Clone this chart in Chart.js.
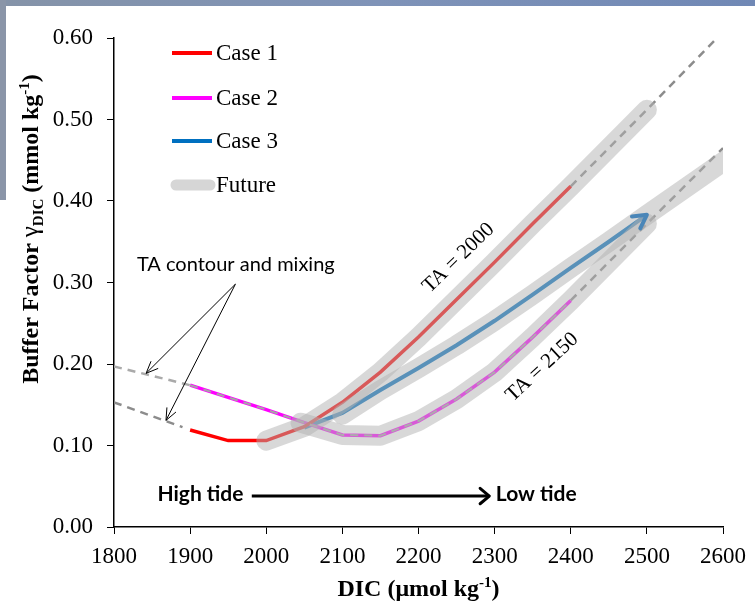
<!DOCTYPE html>
<html>
<head>
<meta charset="utf-8">
<script src="https://cdn.jsdelivr.net/npm/chart.js@4.4.0/dist/chart.umd.min.js"></script>
<style>
  html, body { margin: 0; padding: 0; background: #fff; }
  canvas { display: block; }
</style>
</head>
<body>
<canvas id="chart" width="755" height="601"></canvas>
<script>
// values: DIC (umol/kg) vs buffer factor (mmol/kg)
const case1Dic = [1900, 1950, 2000, 2050, 2100, 2150, 2200, 2250, 2300, 2350, 2400]
const case1Buf = [0.119, 0.106, 0.106, 0.123, 0.153, 0.190, 0.233, 0.279, 0.325, 0.372, 0.418]

const case2Dic = [1900, 1950, 2000, 2050, 2100, 2150, 2200, 2250, 2300, 2350, 2400]
const case2Buf = [0.174, 0.159, 0.144, 0.128, 0.113, 0.112, 0.130, 0.157, 0.190, 0.233, 0.278]

const case3Dic = [2050, 2100, 2150, 2200, 2250, 2300, 2350, 2400, 2450, 2500]
const case3Buf = [0.122, 0.140, 0.168, 0.195, 0.223, 0.253, 0.285, 0.318, 0.350, 0.383]

// "Future" bands
const futureADic = [2000, 2050, 2100, 2150, 2200, 2250, 2300, 2350, 2400, 2500]
const futureABuf = [0.106, 0.123, 0.153, 0.190, 0.233, 0.279, 0.325, 0.372, 0.418, 0.512]
const futureBDic = [2045, 2100, 2150, 2200, 2250, 2300, 2350, 2400, 2500]
const futureBBuf = [0.128, 0.113, 0.112, 0.130, 0.157, 0.190, 0.233, 0.278, 0.372]
const futureCDic = [2100, 2150, 2200, 2250, 2300, 2350, 2400, 2450, 2500, 2620]
const futureCBuf = [0.138, 0.168, 0.195, 0.223, 0.253, 0.285, 0.318, 0.350, 0.383, 0.461]

// TA contours (dashed)
const ta2000ExtDic = [2400, 2500, 2590]
const ta2000ExtBuf = [0.418, 0.512, 0.598]
const ta2150ExtDic = [2400, 2500, 2600]
const ta2150ExtBuf = [0.278, 0.372, 0.465]
const mixUpperDic = [1800, 1900]
const mixUpperBuf = [0.197, 0.174]
const mixLowerDic = [1800, 1890]
const mixLowerBuf = [0.153, 0.1225]

const legendLabels = ['Case 1', 'Case 2', 'Case 3', 'Future']
const xTicks = [1800, 1900, 2000, 2100, 2200, 2300, 2400, 2500, 2600]
const yTicks = [0, 0.1, 0.2, 0.3, 0.4, 0.5, 0.6]

const pts = (xs, ys) => xs.map((x, i) => ({x: x, y: ys[i]}))

const RED = '#ff0000'
const PINK = '#ff00ff'
const BLUE = '#0070c0'
const BAND = 'rgba(178,178,178,0.5)'
const DASH = '#8c8c8c'
const SERIF = '"Liberation Serif", "Times New Roman", serif'
const SANS = 'Lato, "Open Sans", sans-serif'

function band(xs, ys, clip) {
    return {data: pts(xs, ys), borderColor: BAND, borderWidth: 20, borderCapStyle: 'round',
        borderJoinStyle: 'round', clip: clip === undefined ? 12 : clip}
}
function dashed(xs, ys, color, width) {
    return {data: pts(xs, ys), borderColor: color, borderWidth: width, borderDash: [8, 6]}
}

function arrowHead(ctx, x1, y1, x2, y2, len, spread) {
    const a = Math.atan2(y2 - y1, x2 - x1)
    ctx.beginPath()
    ctx.moveTo(x2 - len * Math.cos(a - spread), y2 - len * Math.sin(a - spread))
    ctx.lineTo(x2, y2)
    ctx.lineTo(x2 - len * Math.cos(a + spread), y2 - len * Math.sin(a + spread))
    ctx.stroke()
}

function richText(ctx, parts, cx, cy) {
    let total = 0
    parts.forEach(p => { ctx.font = p.f; p.w = ctx.measureText(p.t).width; total += p.w })
    let x = cx - total / 2
    ctx.textAlign = 'left'
    ctx.textBaseline = 'alphabetic'
    parts.forEach(p => {
        ctx.font = p.f
        ctx.fillText(p.t, x, cy + (p.dy || 0))
        x += p.w
    })
}

const decorations = {
    id: 'decorations',
    beforeDraw(chart) {
        const ctx = chart.ctx
        ctx.save()
        ctx.fillStyle = '#fff'
        ctx.fillRect(0, 0, chart.width, chart.height)
        // slide background peeking through top and left
        const g = ctx.createLinearGradient(0, 0, chart.width, 0)
        g.addColorStop(0, '#8593a8')
        g.addColorStop(0.5, '#7f93b8')
        g.addColorStop(1, '#7088b5')
        ctx.fillStyle = g
        ctx.fillRect(0, 0, chart.width, 6)
        ctx.fillStyle = '#8a95a8'
        ctx.fillRect(0, 0, 6, 200)
        ctx.restore()
    },
    afterDatasetsDraw(chart) {
        const ctx = chart.ctx
        const xs = chart.scales.x, ys = chart.scales.y
        const X = v => xs.getPixelForValue(v), Y = v => ys.getPixelForValue(v)
        ctx.save()
        ctx.lineCap = 'round'
        ctx.lineJoin = 'round'

        // arrow head on case 3
        const n = case3Dic.length
        ctx.strokeStyle = '#4a86b8'
        ctx.lineWidth = 4
        arrowHead(ctx, X(case3Dic[n - 2]), Y(case3Buf[n - 2]), X(case3Dic[n - 1]), Y(case3Buf[n - 1]), 15, 0.5)

        // TA contour and mixing note
        ctx.fillStyle = '#000'
        ctx.font = '20px ' + SANS
        ctx.textAlign = 'center'
        ctx.textBaseline = 'middle'
        ctx.fillText('TA contour and mixing', X(1960), Y(0.322))
        ctx.strokeStyle = '#000'
        ctx.lineWidth = 1
        ctx.lineCap = 'butt'
        const ox = X(1959.5), oy = Y(0.298)
        ;[[1842.2, 0.1886], [1868.3, 0.1308]].forEach(e => {
            ctx.beginPath()
            ctx.moveTo(ox, oy)
            ctx.lineTo(X(e[0]), Y(e[1]))
            ctx.stroke()
            arrowHead(ctx, ox, oy, X(e[0]), Y(e[1]), 13, 0.4)
        })

        // tide arrow
        ctx.font = 'bold 21px ' + SANS
        ctx.fillText('High tide', X(1913.6), Y(0.040))
        ctx.fillText('Low tide', X(2354.7), Y(0.040))
        ctx.lineWidth = 3
        ctx.beginPath()
        ctx.moveTo(X(1981), Y(0.038))
        ctx.lineTo(X(2293), Y(0.038))
        ctx.stroke()
        ctx.lineCap = 'round'
        arrowHead(ctx, X(1981), Y(0.038), X(2293), Y(0.038), 12, 0.7)

        // TA labels along the contours
        ctx.font = '21px ' + SERIF
        ;[['TA = 2000', 2252.6, 0.330, -44], ['TA = 2150', 2362.5, 0.196, -43]].forEach(l => {
            ctx.save()
            ctx.translate(X(l[1]), Y(l[2]))
            ctx.rotate(l[3] * Math.PI / 180)
            ctx.fillText(l[0], 0, 0)
            ctx.restore()
        })
        ctx.restore()
    },
    afterDraw(chart) {
        const ctx = chart.ctx
        const area = chart.chartArea
        ctx.save()
        ctx.fillStyle = '#000'

        // legend
        const colors = [RED, PINK, BLUE]
        const rows = [53, 98, 141, 185]
        legendLabels.forEach((label, i) => {
            ctx.beginPath()
            if (i < 3) {
                ctx.strokeStyle = colors[i]
                ctx.lineWidth = 4
                ctx.lineCap = 'butt'
                ctx.moveTo(172, rows[i])
                ctx.lineTo(212, rows[i])
            } else {
                ctx.strokeStyle = '#d6d6d6'
                ctx.lineWidth = 11
                ctx.lineCap = 'round'
                ctx.moveTo(176, rows[i])
                ctx.lineTo(210, rows[i])
            }
            ctx.stroke()
            ctx.font = '23px ' + SERIF
            ctx.textAlign = 'left'
            ctx.textBaseline = 'middle'
            ctx.fillText(label, 216, rows[i] + 1)
        })

        // axis titles with sub/superscripts
        const big = 'bold 24px ' + SERIF, small = 'bold 15px ' + SERIF
        richText(ctx, [
            {t: 'DIC (\u03bcmol kg', f: big},
            {t: '-1', f: small, dy: -9},
            {t: ')', f: big}
        ], (area.left + area.right) / 2, 596)

        ctx.save()
        ctx.translate(38, 229)
        ctx.rotate(-Math.PI / 2)
        richText(ctx, [
            {t: 'Buffer Factor ', f: big},
            {t: '\u03b3', f: '25px ' + SERIF},
            {t: 'DIC', f: small, dy: 5},
            {t: ' (mmol kg', f: big},
            {t: '-1', f: small, dy: -9},
            {t: ')', f: big}
        ], 0, 0)
        ctx.restore()
        ctx.restore()
    }
}

const axisFont = {family: SERIF, size: 23}

new Chart(document.getElementById('chart'), {
    type: 'scatter',
    data: {
        datasets: [
            band(futureADic, futureABuf),
            band(futureBDic, futureBBuf),
            band(futureCDic, futureCBuf, {left: 12, top: 12, right: 0, bottom: 12}),
            dashed(case2Dic, case2Buf, '#a6a6a6', 2),
            {data: pts(case1Dic, case1Buf), borderColor: RED, borderWidth: 3.5},
            {data: pts(case2Dic, case2Buf), borderColor: PINK, borderWidth: 3.5},
            {data: pts(case3Dic, case3Buf), borderColor: BLUE, borderWidth: 4},
            dashed(ta2000ExtDic, ta2000ExtBuf, DASH, 2.5),
            dashed(ta2150ExtDic, ta2150ExtBuf, DASH, 2.5),
            dashed(mixUpperDic, mixUpperBuf, '#aaaaaa', 2.5),
            dashed(mixLowerDic, mixLowerBuf, DASH, 2.5)
        ]
    },
    options: {
        responsive: false,
        animation: false,
        devicePixelRatio: 1,
        showLine: true,
        elements: {point: {radius: 0, hoverRadius: 0}, line: {tension: 0, fill: false}},
        layout: {padding: {top: 38, right: 27, left: 0, bottom: 0}},
        plugins: {legend: {display: false}, tooltip: {enabled: false}},
        events: [],
        scales: {
            x: {
                type: 'linear', min: 1800, max: 2600,
                afterFit(s) { s.height = 74 },
                afterBuildTicks(s) { s.ticks = xTicks.map(v => ({value: v})) },
                ticks: {color: '#000', font: axisFont, padding: 9, maxRotation: 0, autoSkip: false,
                    callback: v => String(v)},
                grid: {drawOnChartArea: false, drawTicks: true, tickLength: 7, color: '#000'},
                border: {color: '#000', width: 1.5}
            },
            y: {
                type: 'linear', min: 0, max: 0.6,
                afterFit(s) { s.width = 114 },
                afterBuildTicks(s) { s.ticks = yTicks.map(v => ({value: v})) },
                ticks: {color: '#000', font: axisFont, padding: 14, callback: v => v.toFixed(2)},
                grid: {drawOnChartArea: false, drawTicks: true, tickLength: 7, color: '#000'},
                border: {color: '#000', width: 1.5}
            }
        }
    },
    plugins: [decorations]
})
</script>
</body>
</html>
